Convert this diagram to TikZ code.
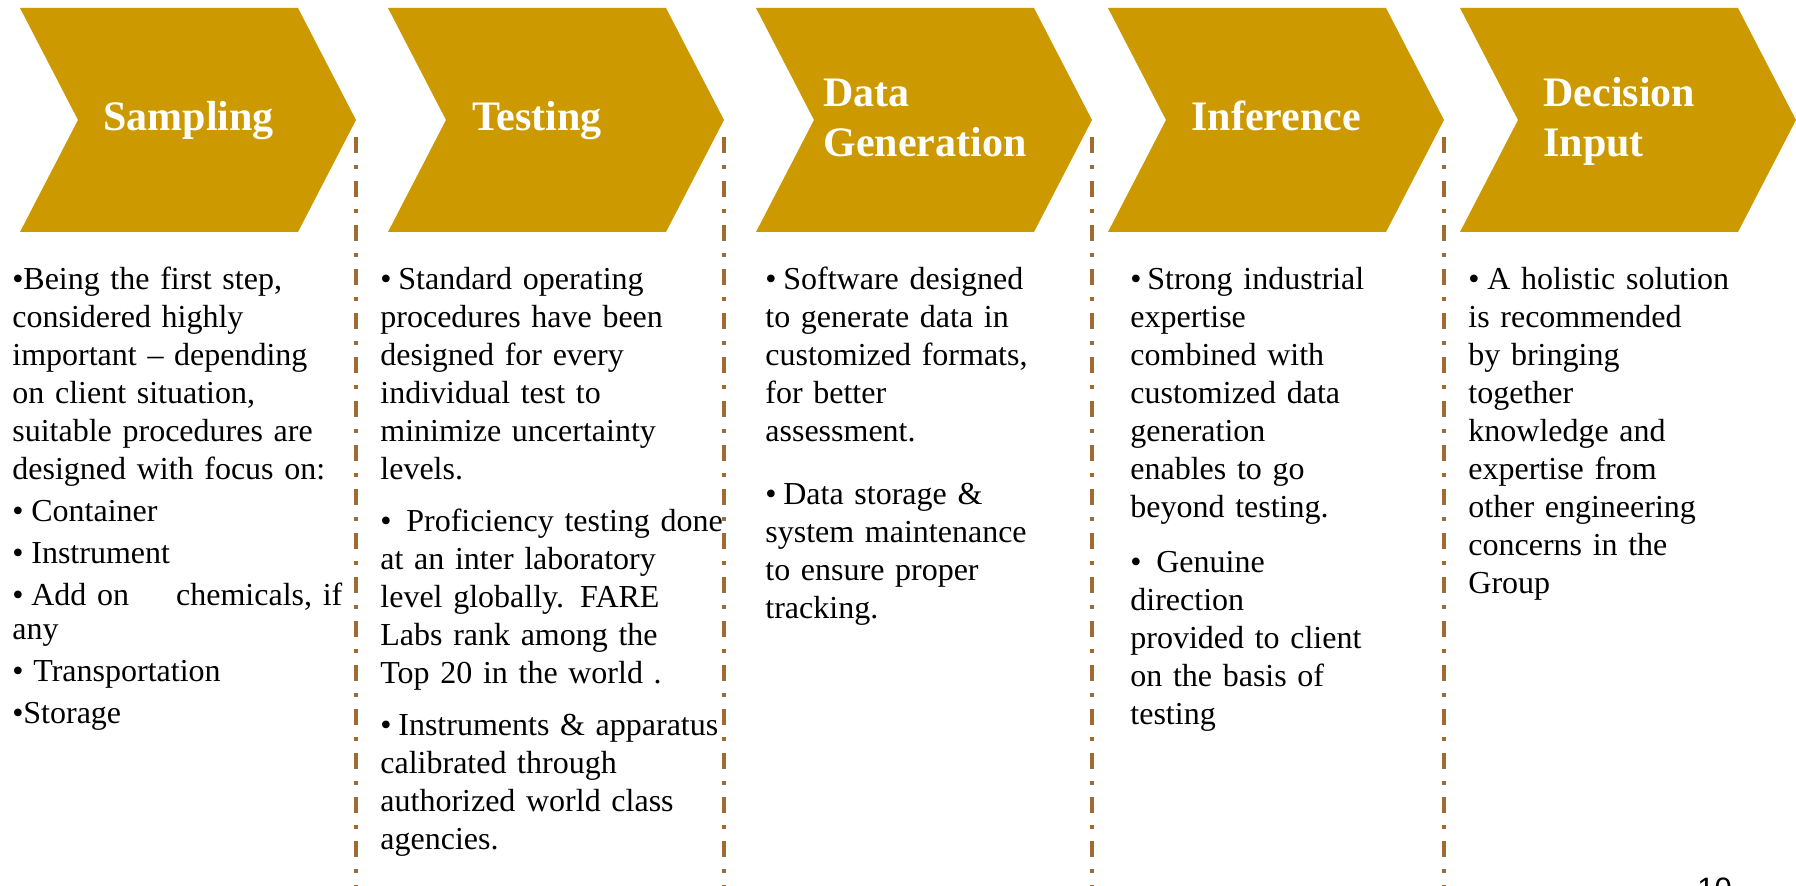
\documentclass[tikz,border=0pt]{standalone}
\usepackage{fontspec}
\setmainfont{Liberation Serif}
\newfontfamily\numfont{Liberation Sans}
\definecolor{gold}{HTML}{CC9900}
\definecolor{rust}{HTML}{A06A30}
% bullet with hanging indent: #1 = indent of later lines, #2 = indent of first line
\newcommand{\bul}[2]{\hangindent=#1\hangafter=1\noindent\makebox[#2][l]{\textbullet}}
\tikzset{
    chev/.style={fill=gold},
    title/.style={anchor=base west, inner sep=0pt, text width=150pt, align=left, text=white,
        font=\fontsize{21}{25}\selectfont\bfseries},
    body/.style={anchor=base west, inner sep=0pt, text width=200pt, align=left,
        font=\fontsize{16}{19}\selectfont, execute at begin node={\setlength{\parskip}{#1}}},
    sep/.style={rust, line width=2pt, dash pattern=on 8pt off 6pt on 2pt off 6pt}
}
\begin{document}
\begin{tikzpicture}[x=0.5pt,y=-0.5pt]
    \useasboundingbox (0,0) rectangle (1796,886);
    \coordinate (bot) at (0,886);
    %draw chevrons
    \foreach \x [count=\i] in {20,388,756,1108,1460}
        {%
            \fill[chev] (\x,8) -- ++(278,0) -- ++(58,112) -- ++(-58,112) -- ++(-278,0) -- ++(58,-112) -- cycle;
            \coordinate (tip\i) at (\x+336,137);
        }
    %draw separators
    \foreach \i in {1,2,3,4}
        {%
            \draw[sep] (tip\i) -- (tip\i |- bot);
        }
    %draw titles
    \node[title] (sampling) at (103,131) {Sampling};
    \node[title] (testing) at (472,131) {Testing};
    \node[title] (datagen) at (823,107) {Data\\Generation};
    \node[title] (inference) at (1191,131) {Inference};
    \node[title] (decision) at (1543,107) {Decision\\Input};
    %draw texts
    \node[body=2pt] (samplingtxt) at (12,290) {%
        \bul{5.5pt}{5.5pt}Being the first step,\\ considered highly\\ important -- depending\\ on client situation,\\ suitable procedures are\\ designed with focus on:
        \par\bul{5.5pt}{9.5pt}Container
        \par\bul{5.5pt}{9.5pt}Instrument
        \par\bul{5.5pt}{9.5pt}Add on\hspace{23.5pt}chemicals, if\\[-2pt] any
        \par\bul{5.5pt}{10.5pt}Transportation
        \par\bul{5.5pt}{5.5pt}Storage};
    \node[body=7pt] (testingtxt) at (380,290) {%
        \bul{9pt}{9pt}Standard operating\\ procedures have been\\ designed for every\\ individual test to\\ minimize uncertainty\\ levels.
        \par\bul{9pt}{13pt}Proficiency testing done\\ at an inter laboratory\\ level globally. FARE\\ Labs rank among the\\ Top 20 in the world .
        \par\bul{9pt}{9pt}Instruments \& apparatus\\ calibrated through\\ authorized world class\\ agencies.};
    \node[body=12.5pt] (datagentxt) at (765,290) {%
        \bul{9pt}{9pt}Software designed\\ to generate data in\\ customized formats,\\ for better\\ assessment.
        \par\bul{9pt}{9pt}Data storage \&\\ system maintenance\\ to ensure proper\\ tracking.};
    \node[body=8.5pt] (inferencetxt) at (1130,290) {%
        \bul{8.5pt}{8.5pt}Strong industrial\\ expertise\\ combined with\\ customized data\\ generation\\ enables to go\\ beyond testing.
        \par\bul{8.5pt}{13pt}Genuine\\ direction\\ provided to client\\ on the basis of\\ testing};
    \node[body=8pt] (decisiontxt) at (1468,290) {%
        \bul{9.5pt}{9.5pt}A holistic solution\\ is recommended\\ by bringing\\ together\\ knowledge and\\ expertise from\\ other engineering\\ concerns in the\\ Group};
    %page number
    \node[anchor=base west, inner sep=0pt, font=\numfont\fontsize{15.5}{18}\selectfont] (pagenum) at (1697,900) {10};
\end{tikzpicture}
\end{document}
